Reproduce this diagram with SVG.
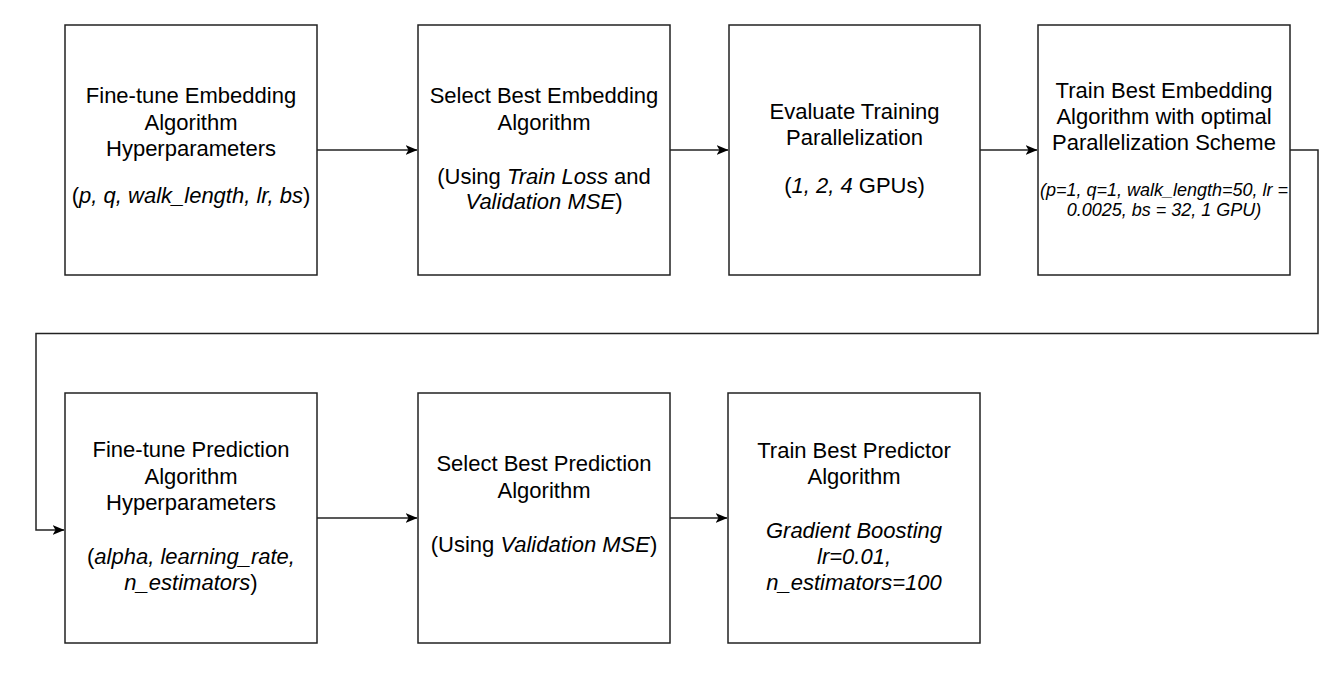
<svg xmlns="http://www.w3.org/2000/svg" width="1344" height="688" viewBox="0 0 1344 688">
<style>
.box{fill:#ffffff;stroke:#222222;stroke-width:1.5}
.t{font-family:"Liberation Sans",Arial,Helvetica,sans-serif;font-size:22px;fill:#000000;text-anchor:middle}
.s{font-size:18px;font-style:italic}
.i{font-style:italic}
.c{fill:none;stroke:#222222;stroke-width:1.5}
</style>
<defs>
<marker id="arr" viewBox="0 0 12 10" refX="11.5" refY="5" markerWidth="12" markerHeight="10" markerUnits="userSpaceOnUse" orient="auto">
<path d="M0,0 L12,5 L0,10 L3,5 Z" fill="#000000"/>
</marker>
</defs>
<rect width="1344" height="688" fill="#ffffff"/>
<g id="connectors">
<path class="c" d="M317,150 H417" marker-end="url(#arr)"/>
<path class="c" d="M670,150 H728" marker-end="url(#arr)"/>
<path class="c" d="M980,150 H1037" marker-end="url(#arr)"/>
<path class="c" d="M1290,150 H1318 V333.5 H36 V530 H64" marker-end="url(#arr)"/>
<path class="c" d="M317,518 H417" marker-end="url(#arr)"/>
<path class="c" d="M670,518 H727" marker-end="url(#arr)"/>
</g>
<g id="node1">
<rect class="box" x="65" y="25" width="252" height="250"/>
<text class="t" x="191" y="103">Fine-tune Embedding</text>
<text class="t" x="191" y="129.5">Algorithm</text>
<text class="t" x="191" y="156">Hyperparameters</text>
<text class="t" x="191" y="202.5">(<tspan class="i">p, q, walk_length, lr, bs</tspan>)</text>
</g>
<g id="node2">
<rect class="box" x="418" y="25" width="252" height="250"/>
<text class="t" x="544" y="103">Select Best Embedding</text>
<text class="t" x="544" y="129.5">Algorithm</text>
<text class="t" x="544" y="183.5">(Using <tspan class="i">Train Loss</tspan> and</text>
<text class="t" x="544" y="208.5"><tspan class="i">Validation MSE</tspan>)</text>
</g>
<g id="node3">
<rect class="box" x="729" y="25" width="251" height="250"/>
<text class="t" x="854.5" y="118.5">Evaluate Training</text>
<text class="t" x="854.5" y="144.5">Parallelization</text>
<text class="t" x="854.5" y="193">(<tspan class="i">1, 2, 4</tspan> GPUs)</text>
</g>
<g id="node4">
<rect class="box" x="1038" y="25" width="252" height="250"/>
<text class="t" x="1164" y="97.5">Train Best Embedding</text>
<text class="t" x="1164" y="123.5">Algorithm with optimal</text>
<text class="t" x="1164" y="149.5">Parallelization Scheme</text>
<text class="t s" x="1164" y="196">(p=1, q=1, walk_length=50, lr =</text>
<text class="t s" x="1164" y="216">0.0025, bs = 32, 1 GPU)</text>
</g>
<g id="node5">
<rect class="box" x="65" y="393" width="252" height="250"/>
<text class="t" x="191" y="457">Fine-tune Prediction</text>
<text class="t" x="191" y="483.5">Algorithm</text>
<text class="t" x="191" y="510">Hyperparameters</text>
<text class="t" x="191" y="564">(<tspan class="i">alpha, learning_rate,</tspan></text>
<text class="t" x="191" y="590"><tspan class="i">n_estimators</tspan>)</text>
</g>
<g id="node6">
<rect class="box" x="418" y="393" width="252" height="250"/>
<text class="t" x="544" y="471">Select Best Prediction</text>
<text class="t" x="544" y="497.5">Algorithm</text>
<text class="t" x="544" y="551.5">(Using <tspan class="i">Validation MSE</tspan>)</text>
</g>
<g id="node7">
<rect class="box" x="728" y="393" width="252" height="250"/>
<text class="t" x="854" y="457.5">Train Best Predictor</text>
<text class="t" x="854" y="484">Algorithm</text>
<text class="t i" x="854" y="537.5">Gradient Boosting</text>
<text class="t i" x="854" y="564">lr=0.01,</text>
<text class="t i" x="854" y="590">n_estimators=100</text>
</g>
</svg>
